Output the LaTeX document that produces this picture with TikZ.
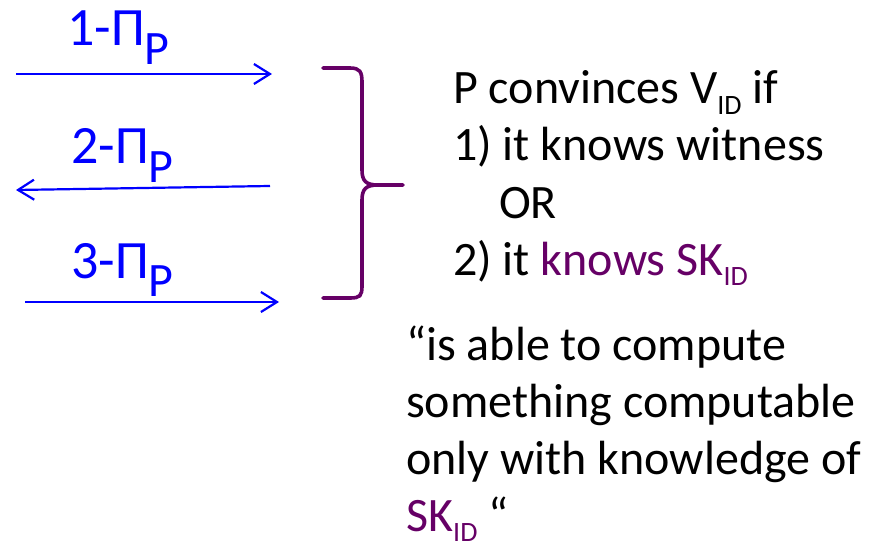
\documentclass[tikz,border=0pt]{standalone}
\usepackage{fontspec}
\setmainfont{Carlito}
\usepackage{tikz}
\usetikzlibrary{arrows.meta}

\definecolor{msgblue}{RGB}{0,0,255}
\definecolor{skpurple}{RGB}{102,0,102}

\newcommand{\idsub}{\raisebox{-0.45ex}{\fontsize{28}{28}\selectfont ID}}
\newcommand{\psub}{\raisebox{-0.7ex}{\fontsize{48}{48}\selectfont P}}

\tikzset{
    msg/.style={draw=msgblue, line width=2.2pt, -{Straight Barb[length=16pt,width=20pt,line width=2.2pt]}},
    msglabel/.style={anchor=base west, inner sep=0pt, text=msgblue, font=\fontsize{54}{60}\selectfont},
    body/.style={anchor=base west, inner sep=0pt, align=left, font=\fontsize{48}{57}\selectfont}
}

\begin{document}
\begin{tikzpicture}[x=1pt,y=-1pt]
    \useasboundingbox (0,0) rectangle (880,545);
    % messages of the protocol
    \coordinate (m1s) at (16,74);
    \coordinate (m1e) at (272,74);
    \coordinate (m2s) at (270,186);
    \coordinate (m2e) at (16,190);
    \coordinate (m3s) at (25,302);
    \coordinate (m3e) at (279,302);
    \draw[msg] (m1s) -- (m1e);
    \draw[msg] (m2s) -- (m2e);
    \draw[msg] (m3s) -- (m3e);
    \node[msglabel] (l1) at (67,46) {1-Π\psub};
    \node[msglabel] (l2) at (71,164) {2-Π\psub};
    \node[msglabel] (l3) at (71,278) {3-Π\psub};
    % brace
    \draw[skpurple, line width=3.6pt, line cap=round]
        (323,68) -- (350,68) .. controls (360,68) and (362,72) .. (362,82)
        -- (362,170) .. controls (362,181) and (366,185) .. (378,185) -- (403,185);
    \draw[skpurple, line width=3.6pt, line cap=round]
        (378,185) .. controls (366,185) and (362,189) .. (362,200)
        -- (362,286) .. controls (362,296) and (360,298) .. (350,298) -- (323,298);
    % conditions (base is the last line)
    \node[body] (cond) at (453,275) {P convinces V\idsub{} if\\
        1) it knows witness\\
        \hspace*{46pt}OR\\
        2) it \textcolor{skpurple}{knows SK\idsub}};
    \node[body] (quote) at (406,531) {“is able to compute\\
        something computable\\
        only with knowledge of\\
        \textcolor{skpurple}{SK\idsub} “};
\end{tikzpicture}
\end{document}
